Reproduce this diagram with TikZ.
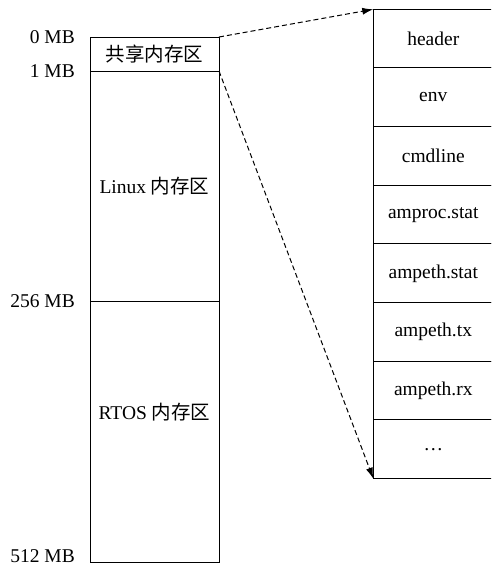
\documentclass[tikz,border=0pt]{standalone}
\usepackage{fontspec}
\setmainfont{Liberation Serif}
\newfontfamily\cjk{Noto Sans CJK SC}
\usetikzlibrary{arrows.meta}
\tikzset{
  basefont/.style={font=\fontsize{19.5}{23}\selectfont},
  region/.style={draw, line width=1pt, inner sep=0pt, outer sep=0pt, anchor=north west,
                 minimum width=129pt, basefont},
  cell/.style={draw, line width=1pt, inner sep=0pt, outer sep=0pt, anchor=north west,
               minimum width=120pt, minimum height=58.67pt, basefont},
  mark label/.style={anchor=east, inner sep=0pt, basefont},
  link/.style={dashed, dash pattern=on 5pt off 3pt, line width=1pt,
               -{Latex[length=11pt,width=7pt]}},
}
\begin{document}
\begin{tikzpicture}[x=1pt,y=-1pt]
\useasboundingbox (0,0) rectangle (491,566);
\clip (0,0) rectangle (491,566);
% left memory map
\node[region, minimum height=34pt] (shared) at (90,37) {{\cjk 共享内存区}};
\node[region, minimum height=230pt] (linux) at (shared.south west) {Linux {\cjk 内存区}};
\node[region, minimum height=261pt] (rtos) at (linux.south west) {};
\node[basefont, inner sep=0pt] (rtostext) at (154.5,412) {RTOS {\cjk 内存区}};
% address labels
\node[mark label] (l0) at (75,37) {0 MB};
\node[mark label] (l1) at (75,71) {1 MB};
\node[mark label] (l256) at (75,301) {256 MB};
\node[mark label] (l512) at (75,556) {512 MB};
% shared memory layout
\node[cell] (c1) at (373.3,9.3) {header};
\node[cell] (c2) at (c1.south west) {env};
\node[cell] (c3) at (c2.south west) {cmdline};
\node[cell] (c4) at (c3.south west) {amproc.stat};
\node[cell] (c5) at (c4.south west) {ampeth.stat};
\node[cell] (c6) at (c5.south west) {ampeth.tx};
\node[cell] (c7) at (c6.south west) {ampeth.rx};
\node[cell] (c8) at (c7.south west) {…};
% links
\draw[link] (shared.north east) -- (c1.north west);
\draw[link] (shared.south east) -- (c8.south west);
\end{tikzpicture}
\end{document}
